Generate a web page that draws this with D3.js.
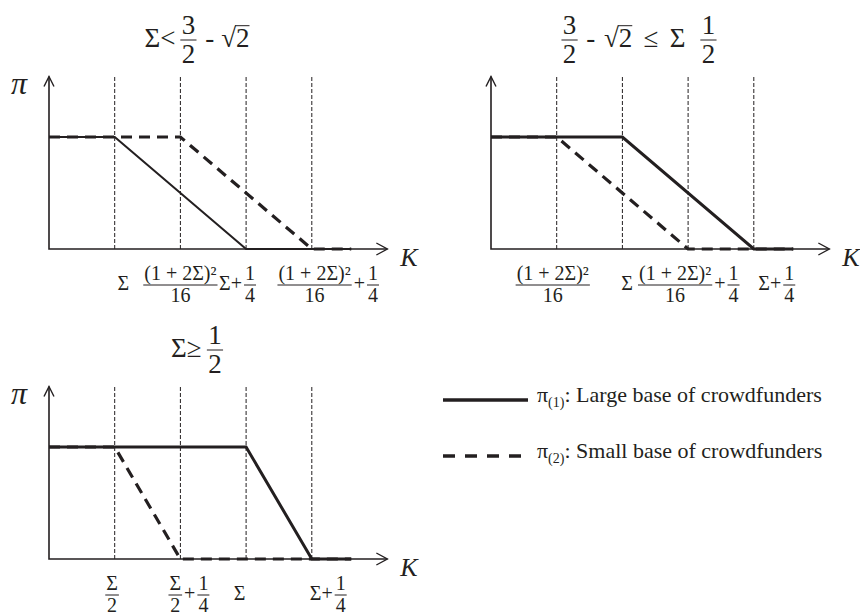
<!DOCTYPE html>
<html>
<head>
<meta charset="utf-8">
<script src="https://cdn.jsdelivr.net/npm/d3@7"></script>
<style>
  body { margin: 0; background: #fff; }
</style>
</head>
<body>
<script>
const INK = "#231f20";
const FONT = '"Liberation Serif", "Times New Roman", serif';

// K positions of the dotted reference lines (same in every panel)
const guides = [1, 2, 3, 4];

// profit curves, [K, pi] in relative units
const solid1 = [[0, 1], [1, 1], [3, 0], [4.6, 0]];
const dashed1 = [[0, 1], [2, 1], [4, 0], [4.6, 0]];
const solid2 = [[0, 1], [2, 1], [4, 0], [4.6, 0]];
const dashed2 = [[0, 1], [1, 1], [3, 0], [4.6, 0]];
const solid3 = [[0, 1], [3, 1], [4, 0], [4.6, 0]];
const dashed3 = [[0, 1], [1, 1], [2, 0], [4.6, 0]];

// little math builders: text, fraction, root, space (em)
const T = s => ({type: "t", s});
const F = (n, d) => ({type: "f", n, d});
const R = s => ({type: "r", s});
const S = w => ({type: "s", w});

const title1 = [T("Σ<"), S(0.08), F("3", "2"), S(0.22), T("-"), S(0.16), R("2")];
const title2 = [F("3", "2"), S(0.22), T("-"), S(0.22), R("2"), S(0.32), T("≤"), S(0.32), T("Σ"), S(0.45), F("1", "2")];
const title3 = [T("Σ≥"), S(0.1), F("1", "2")];

const sq = "(1 + 2Σ)²";
const ticks1 = [
  {k: 1.13, row: [T("Σ")]},
  {k: 2.0, row: [F(sq, "16")]},
  {k: 2.87, row: [T("Σ+"), F("1", "4")]},
  {k: 4.25, row: [F(sq, "16"), T("+"), F("1", "4")]}
];
const ticks2 = [
  {k: 0.94, row: [F(sq, "16")]},
  {k: 2.07, row: [T("Σ")]},
  {k: 3.01, row: [F(sq, "16"), T("+"), F("1", "4")]},
  {k: 4.35, row: [T("Σ+"), F("1", "4")]}
];
const ticks3 = [
  {k: 0.96, row: [F("Σ", "2")]},
  {k: 2.13, row: [F("Σ", "2"), T("+"), F("1", "4")]},
  {k: 2.9, row: [T("Σ")]},
  {k: 4.25, row: [T("Σ+"), F("1", "4")]}
];

const legendNames = ["Large base of crowdfunders", "Small base of crowdfunders"];
const legendSubs = ["(1)", "(2)"];

const unitPx = 65.7, levelPx = 112;
const xEnd = 5.15, yTop = 1.54;

const panels = [
  {x0: 49, y0: 249, solid: solid1, dashed: dashed1, sw: 2, title: title1, ticks: ticks1, pi: true},
  {x0: 491, y0: 249, solid: solid2, dashed: dashed2, sw: 3, title: title2, ticks: ticks2, pi: false},
  {x0: 49, y0: 559, solid: solid3, dashed: dashed3, sw: 3, title: title3, ticks: ticks3, pi: true}
];

const svg = d3.select("body").append("svg")
    .attr("width", 860)
    .attr("height", 615);

const mathRow = (parent, items, cx, axisY, size) => {
  const g = parent.append("g")
      .attr("font-family", FONT)
      .attr("font-size", size)
      .attr("fill", INK);
  const base = axisY + size * 0.27;
  const gap = size * 0.1;
  let x = 0;
  items.forEach(it => {
    if (it.type === "s") { x += it.w * size; return; }
    if (it.type === "t") {
      const t = g.append("text").attr("x", x).attr("y", base).text(it.s);
      x += t.node().getComputedTextLength() + gap;
    } else if (it.type === "f") {
      const n = g.append("text").attr("text-anchor", "middle").attr("y", axisY - size * 0.24).text(it.n);
      const d = g.append("text").attr("text-anchor", "middle").attr("y", axisY + size * 0.84).text(it.d);
      const w = Math.max(n.node().getComputedTextLength(), d.node().getComputedTextLength()) + size * 0.1;
      n.attr("x", x + w / 2);
      d.attr("x", x + w / 2);
      g.append("line")
          .attr("x1", x).attr("x2", x + w)
          .attr("y1", axisY).attr("y2", axisY)
          .attr("stroke", INK).attr("stroke-width", 1);
      x += w + gap;
    } else if (it.type === "r") {
      const rad = g.append("text").attr("x", x).attr("y", base).text("√");
      const rw = rad.node().getComputedTextLength();
      const b = g.append("text").attr("x", x + rw).attr("y", base).text(it.s);
      const bw = b.node().getComputedTextLength();
      const top = base - size * 0.8;
      g.append("line")
          .attr("x1", x + rw - 1).attr("x2", x + rw + bw)
          .attr("y1", top).attr("y2", top)
          .attr("stroke", INK).attr("stroke-width", 1);
      x += rw + bw + gap;
    }
  });
  g.attr("transform", `translate(${cx - (x - gap) / 2},0)`);
};

const drawPanel = p => {
  const x = d3.scaleLinear([0, 1], [p.x0, p.x0 + unitPx]);
  const y = d3.scaleLinear([0, 1], [p.y0, p.y0 - levelPx]);
  const g = svg.append("g");

  g.selectAll("line.guide")
    .data(guides)
    .join("line")
      .attr("class", "guide")
      .attr("x1", d => x(d)).attr("x2", d => x(d))
      .attr("y1", y(0)).attr("y2", y(yTop))
      .attr("stroke", INK)
      .attr("stroke-width", 1)
      .attr("stroke-dasharray", "4,2");

  // axes with open arrow heads
  g.append("path")
      .attr("d", `M${x(0)},${y(yTop)}V${y(0)}H${x(xEnd)}`)
      .attr("fill", "none").attr("stroke", INK).attr("stroke-width", 1.6);
  g.append("path")
      .attr("d", `M${x(0) - 5},${y(yTop) + 10}L${x(0)},${y(yTop)}L${x(0) + 5},${y(yTop) + 10}` +
                 `M${x(xEnd) - 11},${y(0) - 6}L${x(xEnd)},${y(0)}L${x(xEnd) - 11},${y(0) + 6}`)
      .attr("fill", "none").attr("stroke", INK).attr("stroke-width", 1.4);

  const line = d3.line().x(d => x(d[0])).y(d => y(d[1]));
  g.append("path").datum(p.dashed)
      .attr("d", line)
      .attr("fill", "none").attr("stroke", INK)
      .attr("stroke-width", 3.2)
      .attr("stroke-dasharray", "11,7");
  g.append("path").datum(p.solid)
      .attr("d", line)
      .attr("fill", "none").attr("stroke", INK)
      .attr("stroke-width", p.sw);

  g.append("text")
      .attr("x", x(xEnd) + 13).attr("y", y(0) + 17)
      .attr("font-family", FONT).attr("font-style", "italic")
      .attr("font-size", 26).attr("fill", INK)
      .text("K");
  if (p.pi) {
    g.append("text")
        .attr("x", x(0) - 38).attr("y", y(yTop) + 17)
        .attr("font-family", FONT).attr("font-style", "italic")
        .attr("font-size", 32).attr("fill", INK)
        .text("π");
  }

  p.ticks.forEach(t => mathRow(g, t.row, x(t.k), y(0) + 36, 20));
  mathRow(g, p.title, x(0) + 148, y(0) - 209, 27);
};

panels.forEach(drawPanel);

// legend
const legend = svg.append("g");
legendNames.forEach((name, i) => {
  const ly = 400 + i * 56;
  legend.append("line")
      .attr("x1", 443).attr("x2", i ? 522 : 528)
      .attr("y1", ly).attr("y2", ly)
      .attr("stroke", INK).attr("stroke-width", 3.4)
      .attr("stroke-dasharray", i ? "12,10" : null);
  const t = legend.append("text")
      .attr("x", 537).attr("y", ly + 2)
      .attr("font-family", FONT).attr("font-size", 22).attr("fill", INK);
  t.append("tspan").text("π");
  t.append("tspan").attr("font-size", 14).attr("dy", 5).text(legendSubs[i]);
  t.append("tspan").attr("dy", -5).text(": " + name);
});
</script>
</body>
</html>
